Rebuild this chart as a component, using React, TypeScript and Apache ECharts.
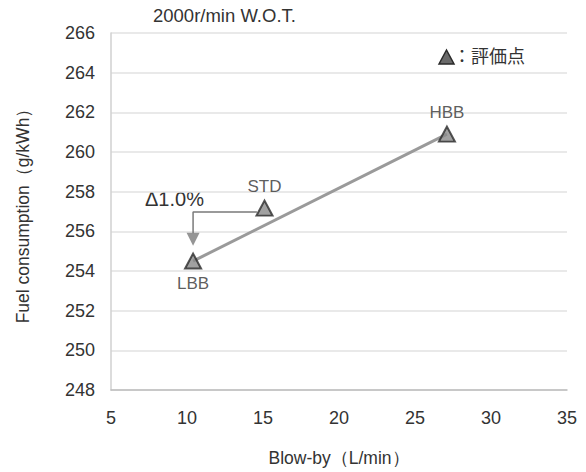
import React, { useEffect, useRef } from "react";
import * as echarts from "echarts";

const pointNames = ["LBB", "STD", "HBB"];
const blowBy = [10.4, 15.1, 27.1];
const fuel = [254.5, 257.17, 260.9];
const trendX = [10.4, 27.1];
const trendY = [254.5, 260.9];
const arrowX = [14.6, 10.4, 10.4];
const arrowY = [256.97, 256.97, 255.9];
const arrowHead = [10.4, 255.6];
const xTicks = { min: 5, max: 35, interval: 5 };
const yTicks = { min: 248, max: 266, interval: 2 };

const FONT = "'Liberation Sans', Arial, sans-serif";
const CJK = "'Noto Sans CJK JP', sans-serif";

export default function App() {
  const ref = useRef<HTMLDivElement>(null);
  useEffect(() => {
    if (!ref.current) return;
    const chart = echarts.init(ref.current, null, { renderer: "svg" });
    const labelPos = ["bottom", "top", "top"];
    chart.setOption({
      animation: false,
      backgroundColor: "#ffffff",
      textStyle: { fontFamily: FONT },
      grid: { left: 111, right: 19, top: 33, bottom: 81 },
      xAxis: {
        type: "value",
        min: xTicks.min,
        max: xTicks.max,
        interval: xTicks.interval,
        name: "Blow-by（L/min）",
        nameLocation: "middle",
        nameGap: 59,
        nameTextStyle: { fontSize: 17.5, color: "#333", fontFamily: FONT },
        axisLine: { show: true, lineStyle: { color: "#bdbdbd", width: 1.5 } },
        axisTick: { show: false },
        axisLabel: { fontSize: 18, color: "#333", margin: 19, fontFamily: FONT },
        splitLine: { show: false },
      },
      yAxis: {
        type: "value",
        min: yTicks.min,
        max: yTicks.max,
        interval: yTicks.interval,
        name: "Fuel consumption（g/kWh）",
        nameLocation: "middle",
        nameGap: 79,
        nameTextStyle: { fontSize: 17.5, color: "#333", fontFamily: FONT },
        axisLine: { show: true, lineStyle: { color: "#d0d0d0", width: 1.5 } },
        axisTick: { show: false },
        axisLabel: { fontSize: 18, color: "#333", margin: 16, fontFamily: FONT },
        splitLine: { show: true, lineStyle: { color: "#e2e2e2", width: 1.5 } },
      },
      series: [
        {
          type: "line",
          data: trendX.map((x, i) => [x, trendY[i]]),
          symbol: "none",
          lineStyle: { color: "#9a9a9a", width: 3 },
          z: 1,
        },
        {
          type: "line",
          data: arrowX.map((x, i) => [x, arrowY[i]]),
          symbol: "none",
          lineStyle: { color: "#7a7a7a", width: 1.5 },
          z: 2,
        },
        {
          type: "scatter",
          data: [arrowHead],
          symbol: "triangle",
          symbolRotate: 180,
          symbolSize: [13, 13],
          itemStyle: { color: "#7a7a7a" },
          z: 2,
        },
        {
          type: "scatter",
          data: blowBy.map((x, i) => ({
            value: [x, fuel[i]],
            name: pointNames[i],
            label: {
              show: true,
              position: labelPos[i],
              formatter: pointNames[i],
              distance: 5,
              fontSize: 17,
              color: "#333",
              fontFamily: FONT,
            },
          })),
          symbol: "triangle",
          symbolSize: [16, 15],
          itemStyle: { color: "#8a8a8a", borderColor: "#2a2a2a", borderWidth: 2 },
          z: 3,
        },
      ],
      graphic: [
        {
          type: "text",
          left: 153,
          top: 6,
          style: { text: "2000r/min W.O.T.", fontSize: 18.5, fill: "#333", fontFamily: FONT },
        },
        {
          type: "text",
          left: 145,
          top: 189,
          style: { text: "Δ1.0%", fontSize: 20, fill: "#333", fontFamily: FONT },
        },
        {
          type: "polygon",
          shape: { points: [[439, 64], [446.5, 50], [454, 64]] },
          style: { fill: "#6a6a6a", stroke: "#2a2a2a", lineWidth: 1.5 },
        },
        {
          type: "text",
          left: 453,
          top: 46,
          style: { text: "：評価点", fontSize: 18, fill: "#333", fontFamily: CJK },
        },
      ],
    });
    return () => chart.dispose();
  }, []);
  return (
    <div
      ref={ref}
      style={{ position: "absolute", left: 0, top: 0, width: 586, height: 472 }}
    />
  );
}
